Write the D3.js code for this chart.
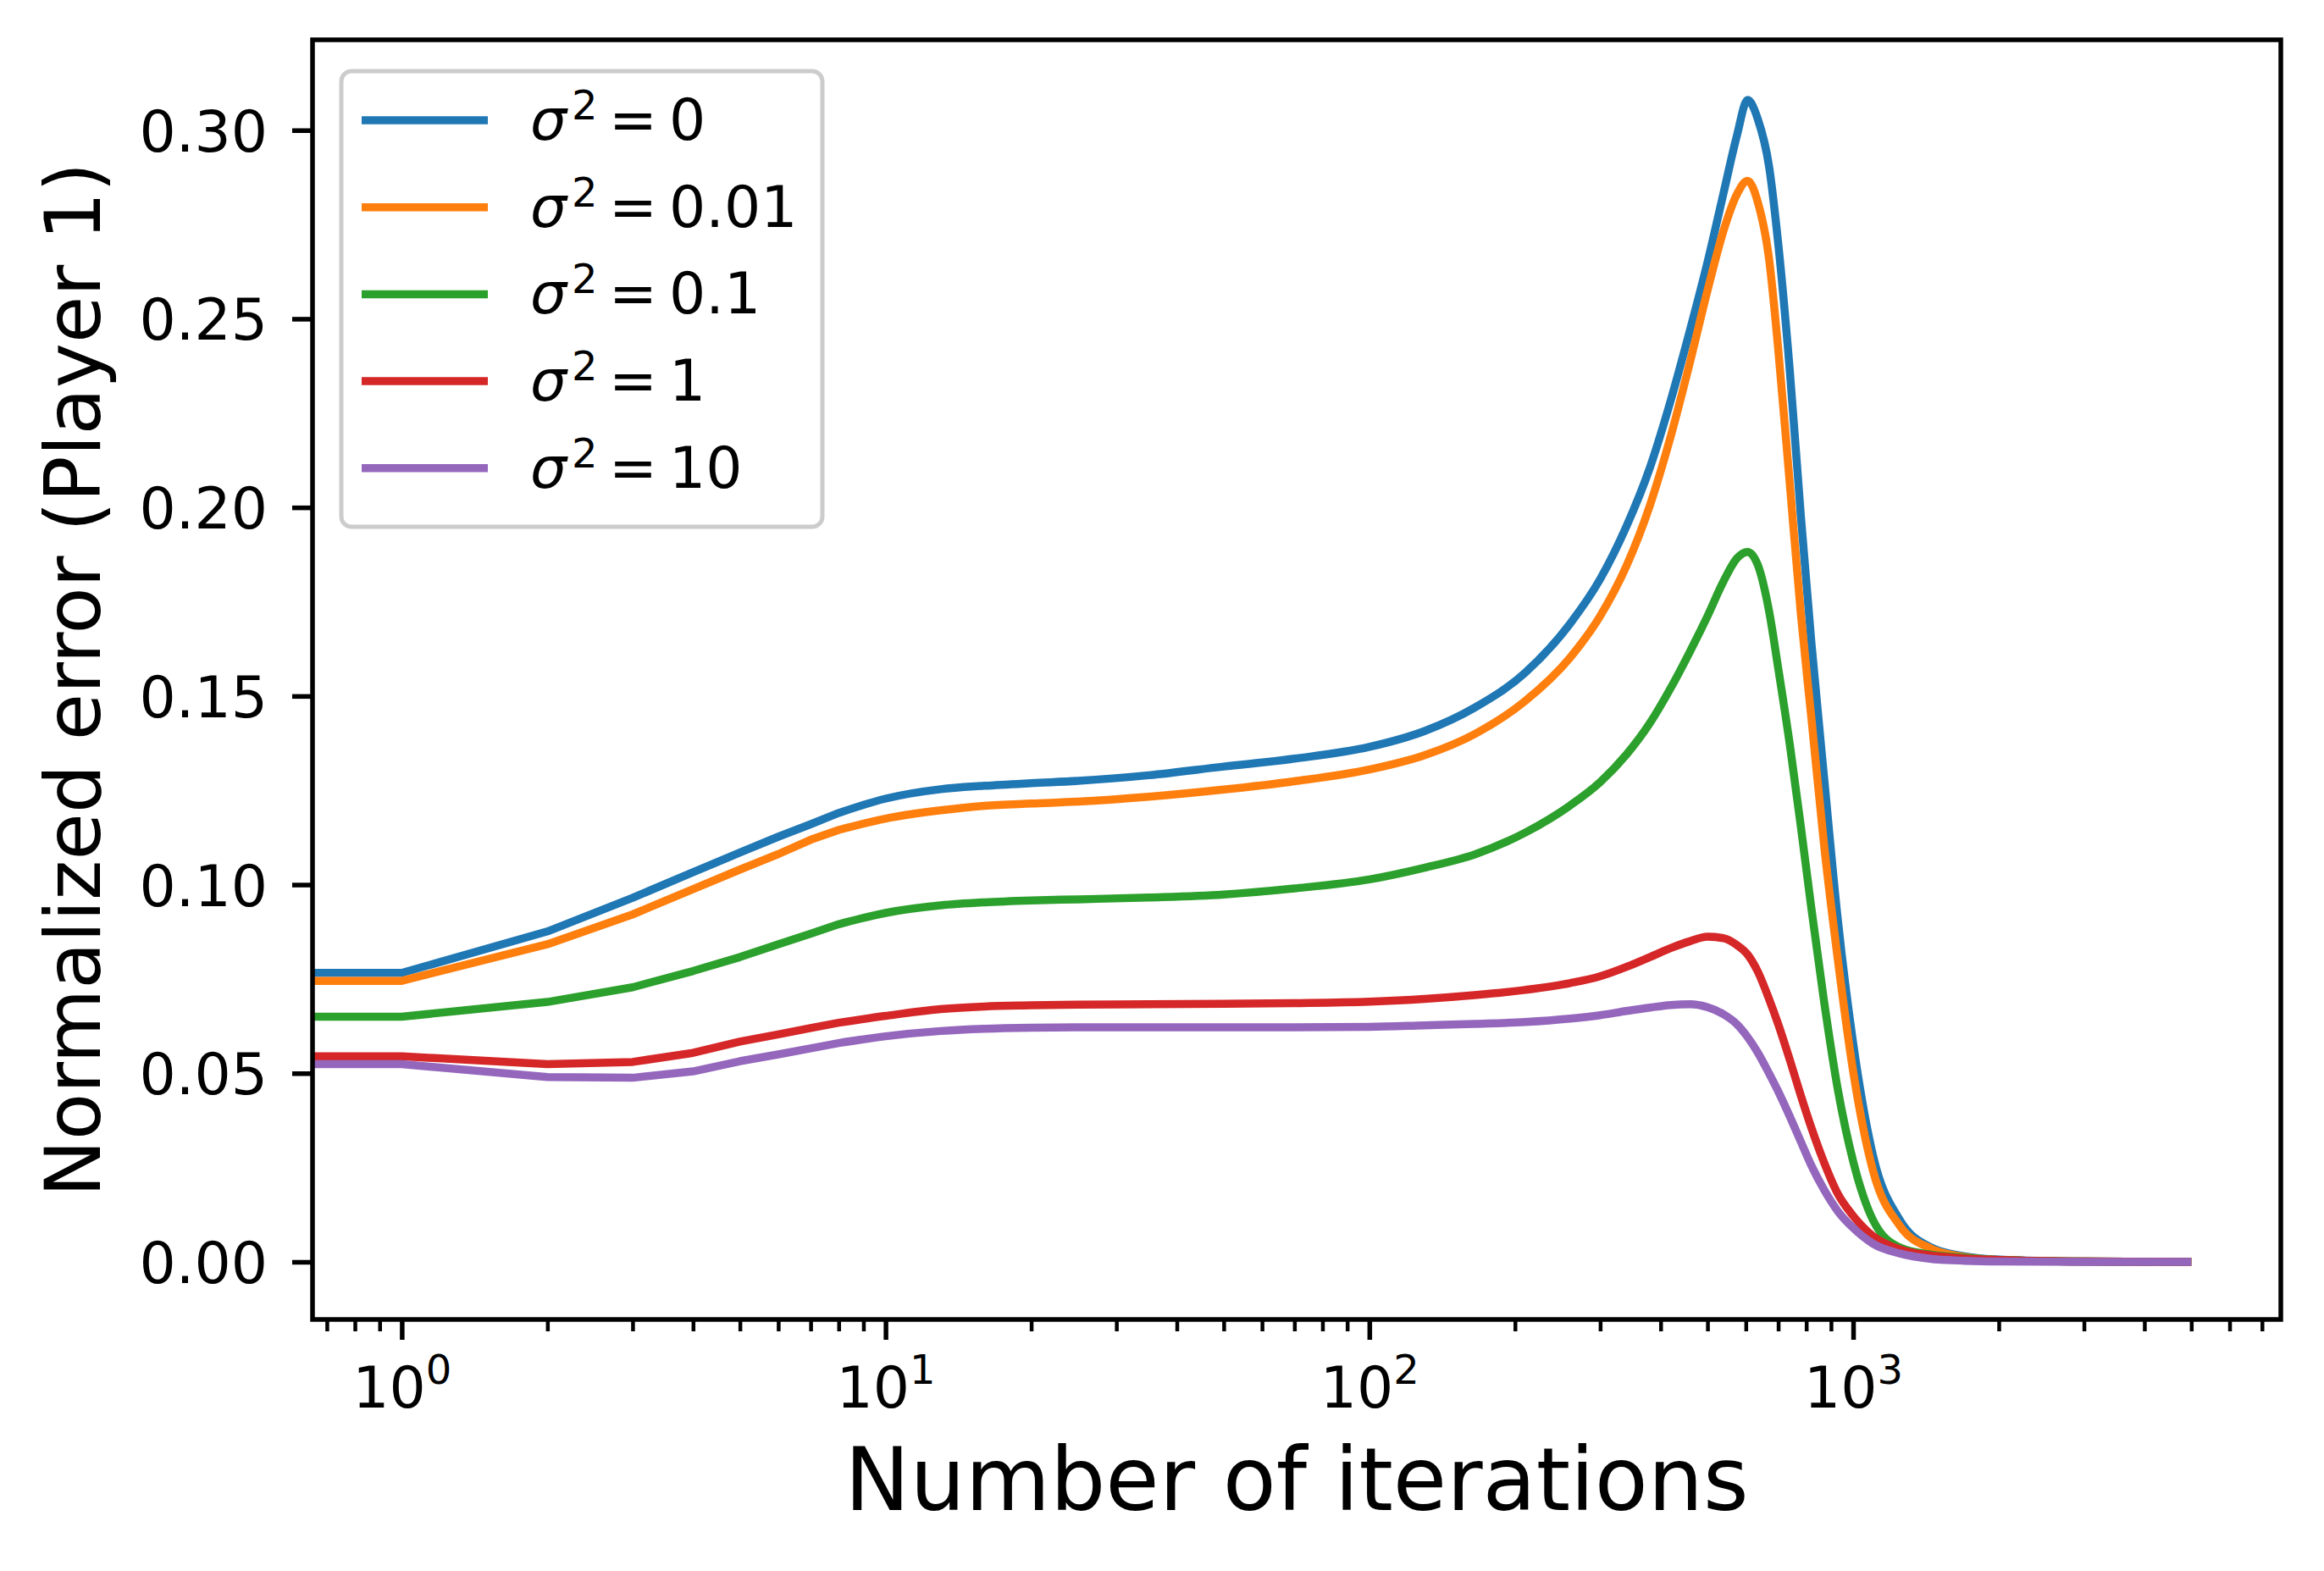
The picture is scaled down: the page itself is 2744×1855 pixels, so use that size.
<!DOCTYPE html>
<html>
<head>
<meta charset="utf-8">
<script src="https://cdn.jsdelivr.net/npm/d3@7"></script>
<style>
  body { margin: 0; background: #fff; }
  text { font-family: "DejaVu Sans", sans-serif; fill: #000; }
</style>
</head>
<body>
<script>
// iterations (0 is clipped to the left edge on the log axis, like matplotlib)
const iterations = [0, 1, 2, 3, 4, 5, 6, 7, 8, 10, 13, 16, 20, 25, 35, 50, 70, 100, 130, 165, 210, 260,
  300, 340, 380, 420, 460, 500, 540, 575, 605, 635, 670, 700, 740, 780, 820, 870, 930, 1000,
  1100, 1250, 1450, 1700, 2000, 3000, 5000];

const errSigma0 = [0.0766, 0.0766, 0.0876, 0.0965, 0.1033, 0.1085, 0.1127, 0.1160, 0.1190,
  0.1228, 0.1253, 0.1262, 0.1269, 0.1275, 0.1290, 0.1313, 0.1334, 0.1365, 0.1407, 0.1469, 0.1562, 0.1692,
  0.1810, 0.1950, 0.2105, 0.2285, 0.2470, 0.2650, 0.2835, 0.2985, 0.3080, 0.3030, 0.2905,
  0.2700, 0.2360, 0.1975, 0.1640, 0.1290, 0.0905, 0.0580,
  0.0280, 0.0110, 0.0038, 0.0015, 0.0006, 0.0001, 0.0000];

const errSigma001 = [0.0745, 0.0745, 0.0842, 0.0921, 0.0988, 0.1040, 0.1081, 0.1119, 0.1145,
  0.1175, 0.1197, 0.1209, 0.1215, 0.1220, 0.1233, 0.1252, 0.1274, 0.1305, 0.1343, 0.1399, 0.1487, 0.1602,
  0.1712, 0.1845, 0.2005, 0.2190, 0.2385, 0.2575, 0.2735, 0.2830, 0.2866, 0.2810, 0.2660,
  0.2420, 0.2060, 0.1715, 0.1440, 0.1110, 0.0800, 0.0505,
  0.0240, 0.0095, 0.0035, 0.0013, 0.0005, 0.0001, 0.0000];

const errSigma01 = [0.0650, 0.0650, 0.0689, 0.0728, 0.0771, 0.0808, 0.0842, 0.0870, 0.0895,
  0.0925, 0.0945, 0.0953, 0.0958, 0.0961, 0.0966, 0.0974, 0.0990, 0.1014, 0.1045, 0.1080, 0.1138, 0.1210,
  0.1272, 0.1345, 0.1428, 0.1522, 0.1618, 0.1712, 0.1805, 0.1865, 0.1882, 0.1848, 0.1726,
  0.1574, 0.1370, 0.1152, 0.0936, 0.0694, 0.0456, 0.0267,
  0.0110, 0.0038, 0.0019, 0.0011, 0.0005, 0.0001, 0.0000];

const errSigma1 = [0.0545, 0.0545, 0.0524, 0.0530, 0.0554, 0.0584, 0.0603, 0.0620, 0.0634,
  0.0652, 0.0670, 0.0677, 0.0680, 0.0682, 0.0683, 0.0684, 0.0686, 0.0690, 0.0697, 0.0707, 0.0721, 0.0739,
  0.0757, 0.0782, 0.0808, 0.0832, 0.0850, 0.0862, 0.0858, 0.0840, 0.0815, 0.0770, 0.0697,
  0.0630, 0.0535, 0.0440, 0.0355, 0.0265, 0.0180, 0.0122,
  0.0068, 0.0033, 0.0017, 0.0009, 0.0005, 0.0001, 0.0000];

const errSigma10 = [0.0524, 0.0524, 0.0490, 0.0488, 0.0505, 0.0532, 0.0550, 0.0566, 0.0580,
  0.0598, 0.0612, 0.0618, 0.0621, 0.0622, 0.0622, 0.0622, 0.0622, 0.0623, 0.0627, 0.0631, 0.0636, 0.0645,
  0.0654, 0.0665, 0.0674, 0.0681, 0.0683, 0.0675, 0.0656, 0.0630, 0.0596, 0.0555, 0.0500,
  0.0452, 0.0385, 0.0318, 0.0255, 0.0192, 0.0134, 0.0090,
  0.0048, 0.0022, 0.0008, 0.0003, 0.0001, 0.0000, 0.0000];

const sigmaLabels = ['0', '0.01', '0.1', '1', '10'];
const colors = ['#1f77b4', '#ff7f0e', '#2ca02c', '#d62728', '#9467bd'];
const yTicks = [0, 0.05, 0.10, 0.15, 0.20, 0.25, 0.30];
const xMajorTicks = [1, 10, 100, 1000];
const xExponents = ['0', '1', '2', '3'];

const allSeries = [errSigma0, errSigma001, errSigma01, errSigma1, errSigma10];

const W = 2744, H = 1855;
const pLeft = 369, pRight = 2693, pTop = 47, pBottom = 1558;
const lw = 9.5;

const svg = d3.select('body').append('svg').attr('width', W).attr('height', H);
svg.append('rect').attr('width', W).attr('height', H).attr('fill', '#fff');

const x = d3.scaleLog().domain([Math.pow(10, -0.1845), Math.pow(10, 3.884)]).range([pLeft, pRight]).clamp(true);
const y = d3.scaleLinear().domain([-0.01527, 0.32396]).range([pBottom, pTop]);

svg.append('clipPath').attr('id', 'plotclip').append('rect')
  .attr('x', pLeft).attr('y', pTop).attr('width', pRight - pLeft).attr('height', pBottom - pTop);

// first points are integer steps -> straight segments, rest smooth
const lineLin = d3.line().x(d => x(d[0])).y(d => y(d[1]));
const lineSmooth = d3.line().x(d => x(d[0])).y(d => y(d[1])).curve(d3.curveMonotoneX);
const split = 8;

const lines = svg.append('g').attr('clip-path', 'url(#plotclip)');
allSeries.forEach((vals, i) => {
  const pts = iterations.map((it, j) => [it, vals[j]]);
  const d = lineLin(pts.slice(0, split + 1)) + lineSmooth(pts.slice(split)).replace(/^M/, 'L');
  lines.append('path').attr('d', d)
    .attr('fill', 'none').attr('stroke', colors[i]).attr('stroke-width', lw)
    .attr('stroke-linejoin', 'round');
});

// y axis
const yAxis = svg.append('g').attr('transform', `translate(${pLeft},0)`)
  .call(d3.axisLeft(y).tickValues(yTicks).tickFormat(d3.format('.2f')).tickSize(24).tickPadding(29));
yAxis.select('.domain').remove();
yAxis.selectAll('line').attr('stroke', '#000').attr('stroke-width', 5.5);
yAxis.selectAll('text').attr('font-size', 68).attr('dy', '0.36em').style('font-family', '"DejaVu Sans"');

// x axis minor ticks
const minor = [];
[0.1, 1, 10, 100, 1000].forEach(dec => { for (let k = 2; k <= 9; k++) minor.push(dec * k); });
const xMinor = svg.append('g').attr('transform', `translate(0,${pBottom})`)
  .call(d3.axisBottom(x).tickValues(minor.filter(v => v >= x.domain()[0] && v <= x.domain()[1])).tickSize(14).tickFormat(''));
xMinor.select('.domain').remove();
xMinor.selectAll('line').attr('stroke', '#000').attr('stroke-width', 4.5);

// x axis major ticks with 10^n labels
const xAxis = svg.append('g').attr('transform', `translate(0,${pBottom})`)
  .call(d3.axisBottom(x).tickValues(xMajorTicks).tickSize(24).tickFormat(''));
xAxis.select('.domain').remove();
xAxis.selectAll('line').attr('stroke', '#000').attr('stroke-width', 5.5);
xAxis.selectAll('.tick').each(function (d, i) {
  const t = d3.select(this).select('text')
    .attr('y', 104).attr('dy', 0).attr('font-size', 68).attr('text-anchor', 'middle')
    .style('font-family', '"DejaVu Sans"');
  t.append('tspan').text('10');
  t.append('tspan').attr('dy', -28).attr('font-size', 48).text(xExponents[i]);
});

// frame
svg.append('rect').attr('x', pLeft).attr('y', pTop).attr('width', pRight - pLeft).attr('height', pBottom - pTop)
  .attr('fill', 'none').attr('stroke', '#000').attr('stroke-width', 5.5);

// axis labels
svg.append('text').attr('x', (pLeft + pRight) / 2).attr('y', 1783)
  .attr('text-anchor', 'middle').attr('font-size', 103).text('Number of iterations');
svg.append('text').attr('transform', `translate(118,${(pTop + pBottom) / 2}) rotate(-90)`)
  .attr('text-anchor', 'middle').attr('font-size', 90).text('Normalized error (Player 1)');

// legend
const legend = svg.append('g');
legend.append('rect').attr('x', 403).attr('y', 84).attr('width', 568).attr('height', 538)
  .attr('rx', 12).attr('fill', '#fff').attr('fill-opacity', 0.8)
  .attr('stroke', '#cccccc').attr('stroke-width', 5);
sigmaLabels.forEach((lab, i) => {
  const cy = 142 + i * 102.7;
  legend.append('line').attr('x1', 427).attr('x2', 576).attr('y1', cy).attr('y2', cy)
    .attr('stroke', colors[i]).attr('stroke-width', lw);
  const t = legend.append('text').attr('y', cy + 23).attr('font-size', 68);
  t.append('tspan').attr('x', 626).attr('font-style', 'italic').text('σ');
  t.append('tspan').attr('x', 675).attr('dy', -24).attr('font-size', 48).text('2');
  t.append('tspan').attr('x', 719).attr('dy', 24).text('=');
  t.append('tspan').attr('x', 790).text(lab);
});
</script>
</body>
</html>
